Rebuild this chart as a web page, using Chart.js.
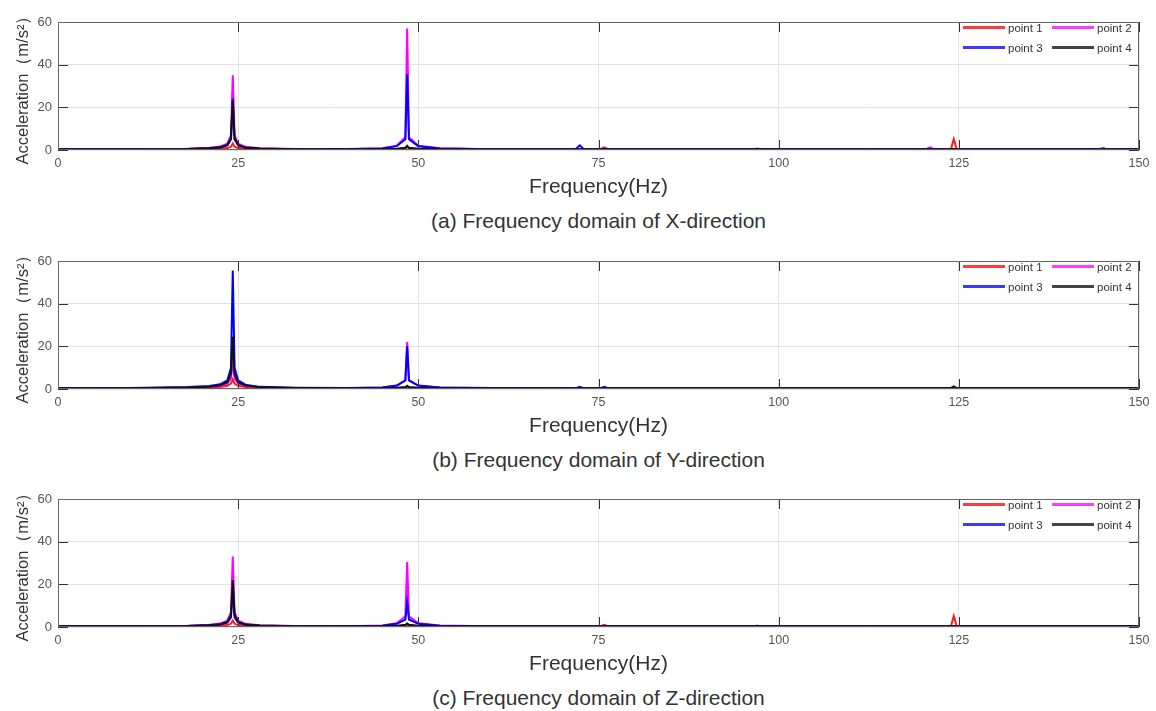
<!DOCTYPE html>
<html><head><meta charset="utf-8">
<script src="https://cdn.jsdelivr.net/npm/chart.js@4"></script>
<style>
body{margin:0;width:1156px;height:711px;background:#fff;position:relative;overflow:hidden;font-family:"Liberation Sans",Arial,sans-serif;}
.panel{position:absolute;left:0;width:1156px;height:200px;}
.cap{position:absolute;left:58px;width:1081px;text-align:center;font-size:21px;color:#333;line-height:24px;}
.it{position:absolute;height:14px;line-height:14px;white-space:nowrap;font-size:11.5px;color:#333;}
.ln{display:inline-block;width:42px;height:3px;vertical-align:middle;margin-right:3px;position:relative;top:-1px;}
</style></head><body>
<script>
// shared frequency grid (Hz)
const freq = [0,10,18,21,22.5,23.5,24.0,24.25,24.5,25.0,26,28,33,40,45,47,48.2,48.45,48.7,50,53,60,71.8,72.4,73,75.2,75.8,76.4,90,96.4,97,97.6,110,120.4,121,121.6,123.9,124.3,124.7,135,144.4,145,145.6,150];

// (a) X-direction
const xP1 = [0.3,0.3,0.3,0.4,0.6,0.9,1.5,3.0,1.5,0.9,0.6,0.4,0.3, 0.3,0.3,0.4,0.7,1.5,0.7,0.4,0.3,0.3, 0.3,0.4,0.3,0.3,1.2,0.3, 0.4,0.3,0.6,0.3, 0.3,0.3,0.4,0.3, 0.4,5.2,0.4, 0.3,0.3,0.8,0.3,0.3];
const xP2 = [0.4,0.4,0.6,1.0,1.6,3.0,7.0,35,7.0,3.0,1.5,0.8,0.5, 0.4,0.8,2.0,6.0,57,6.0,2.0,0.8,0.4, 0.3,0.3,0.3,0.3,0.3,0.3, 0.3,0.3,0.5,0.3, 0.3,0.3,1.2,0.3, 0.3,0.5,0.3, 0.3,0.3,0.9,0.3,0.3];
const xP3 = [0.3,0.3,0.5,0.8,1.2,2.2,5.0,24,5.0,2.2,1.1,0.6,0.4, 0.5,0.7,1.8,5.0,35.5,5.0,1.8,0.7,0.4, 0.3,2.2,0.3,0.3,0.3,0.3, 0.3,0.3,0.6,0.3, 0.3,0.3,0.3,0.3, 0.3,0.3,0.3, 0.3,0.3,0.3,0.3,0.3];
const xP4 = [0.3,0.3,0.5,0.8,1.3,2.4,5.5,23,5.5,2.4,1.2,0.7,0.4, 0.3,0.4,0.6,1.0,2.0,1.0,0.6,0.4,0.3, 0.3,0.3,0.3,0.3,0.3,0.3, 0.3,0.3,0.3,0.3, 0.3,0.3,0.3,0.3, 0.3,0.5,0.3, 0.3,0.3,0.3,0.3,0.3];

// (b) Y-direction
const yP1 = [0.3,0.3,0.4,0.6,0.9,1.5,2.5,4.5,2.5,1.5,0.9,0.5,0.3, 0.3,0.3,0.4,0.6,1.0,0.6,0.4,0.3,0.3, 0.3,0.6,0.3,0.3,0.3,0.3, 0.3,0.3,0.3,0.3, 0.3,0.3,0.3,0.3, 0.3,0.3,0.3, 0.3,0.3,0.3,0.3,0.3];
const yP2 = [0.4,0.4,0.6,0.9,1.4,2.5,5.0,13,5.0,2.5,1.3,0.7,0.4, 0.4,0.7,1.5,4.0,22,4.0,1.5,0.7,0.4, 0.3,0.3,0.3,0.3,0.3,0.3, 0.3,0.3,0.3,0.3, 0.3,0.3,0.3,0.3, 0.3,0.3,0.3, 0.3,0.3,0.3,0.3,0.3];
const yP3 = [0.4,0.5,0.9,1.4,2.2,4.0,10,55.5,10,4.0,2.0,1.0,0.6, 0.5,0.7,1.6,4.0,20,4.0,1.6,0.7,0.5, 0.3,1.0,0.3,0.3,1.0,0.3, 0.3,0.3,0.3,0.3, 0.3,0.3,0.3,0.3, 0.3,0.3,0.3, 0.3,0.3,0.3,0.3,0.3];
const yP4 = [0.4,0.4,0.7,1.1,1.8,3.2,7.0,24.5,7.0,3.2,1.6,0.8,0.5, 0.4,0.4,0.6,0.9,1.5,0.9,0.6,0.4,0.4, 0.4,0.4,0.4,0.4,0.4,0.4, 0.4,0.4,0.4,0.4, 0.4,0.4,0.4,0.4, 0.4,1.2,0.4, 0.4,0.4,0.4,0.4,0.4];

// (c) Z-direction
const zP1 = [0.3,0.3,0.3,0.4,0.6,0.9,1.5,3.0,1.5,0.9,0.6,0.4,0.3, 0.3,0.3,0.4,0.6,1.0,0.6,0.4,0.3,0.3, 0.3,0.4,0.3,0.3,1.0,0.3, 0.3,0.3,0.5,0.3, 0.3,0.3,0.3,0.3, 0.4,5.2,0.4, 0.3,0.3,0.3,0.3,0.3];
const zP2 = [0.4,0.4,0.6,1.0,1.6,3.0,7.0,33,7.0,3.0,1.5,0.8,0.5, 0.4,0.7,1.8,5.0,30.5,5.0,1.8,0.7,0.4, 0.3,0.3,0.3,0.3,0.3,0.3, 0.3,0.3,0.3,0.3, 0.3,0.3,0.3,0.3, 0.3,0.3,0.3, 0.3,0.3,0.3,0.3,0.3];
const zP3 = [0.3,0.3,0.5,0.8,1.2,2.0,4.5,18,4.5,2.0,1.0,0.6,0.4, 0.4,0.6,1.5,3.5,11.5,3.5,1.5,0.6,0.4, 0.3,0.3,0.3,0.3,0.3,0.3, 0.3,0.3,0.6,0.3, 0.3,0.3,0.3,0.3, 0.3,0.3,0.3, 0.3,0.3,0.3,0.3,0.3];
const zP4 = [0.3,0.3,0.5,0.8,1.3,2.4,5.5,22,5.5,2.4,1.2,0.7,0.4, 0.3,0.4,0.6,1.0,1.6,1.0,0.6,0.4,0.3, 0.3,0.3,0.3,0.3,0.3,0.3, 0.3,0.3,0.3,0.3, 0.3,0.3,0.3,0.3, 0.3,0.3,0.3, 0.3,0.3,0.3,0.3,0.3];

const seriesNames = ['point 1','point 2','point 3','point 4'];
const seriesColors = ['#ff1a1a','#ff00ff','#0000ff','#111111'];
const legendColors = ['#ff3b3b','#ff3bff','#3b3bff','#444444'];
const xTicks = [0,25,50,75,100,125,150];
const yTicks = [0,20,40,60];
const captions = ['(a) Frequency domain of X-direction','(b) Frequency domain of Y-direction','(c) Frequency domain of Z-direction'];
const panelData = [[xP1,xP2,xP3,xP4],[yP1,yP2,yP3,yP4],[zP1,zP2,zP3,zP4]];
const panelTops = [0,239,477];
const FONT = '"Liberation Sans", Arial, sans-serif';

const framePlugin = {
  id:'frame',
  afterDatasetsDraw(chart){
    const {ctx, chartArea:a, scales:{x,y}} = chart;
    ctx.save();
    ctx.lineWidth = 1;
    ctx.strokeStyle = '#333';
    ctx.beginPath();
    x.ticks.forEach(t=>{
      const px = Math.round(x.getPixelForValue(t.value))+0.5;
      ctx.moveTo(px,a.top); ctx.lineTo(px,a.top+10);
      ctx.moveTo(px,a.bottom); ctx.lineTo(px,a.bottom-10);
    });
    y.ticks.forEach(t=>{
      const py = Math.round(y.getPixelForValue(t.value))+0.5;
      ctx.moveTo(a.left,py); ctx.lineTo(a.left+10,py);
      ctx.moveTo(a.right,py); ctx.lineTo(a.right-10,py);
    });
    ctx.stroke();
    ctx.strokeStyle = '#666';
    ctx.strokeRect(a.left+0.5,a.top+0.5,a.width-1,a.height-1);
    ctx.restore();
  }
};

function makePanel(i){
  const top = panelTops[i];
  const div = document.createElement('div');
  div.className='panel'; div.style.top = top+'px';
  const cv = document.createElement('canvas');
  cv.width=1156; cv.height=200;
  div.appendChild(cv); document.body.appendChild(div);

  const datasets = panelData[i].map((vals,k)=>({
    label: seriesNames[k],
    data: freq.map((f,j)=>({x:f,y:vals[j]})),
    borderColor: seriesColors[k],
    backgroundColor: seriesColors[k],
    borderWidth: 2,
    pointRadius: 0,
    tension: 0,
    fill: false,
    order: 4-k
  }));

  new Chart(cv,{
    type:'line',
    data:{datasets},
    plugins:[framePlugin],
    options:{
      responsive:false, animation:false, devicePixelRatio:1,
      layout:{padding:{top:22,right:17,left:0,bottom:0}},
      plugins:{legend:{display:false},tooltip:{enabled:false}},
      scales:{
        x:{type:'linear',min:0,max:150,
          afterBuildTicks:(s)=>{s.ticks = xTicks.map(v=>({value:v}));},
          afterFit:(s)=>{s.height=50;},
          ticks:{font:{size:12.5,family:FONT},color:'#555',padding:6,maxRotation:0},
          grid:{color:'#e2e2e2',drawTicks:false},
          border:{display:false},
          title:{display:true,text:'Frequency(Hz)',font:{size:21,family:FONT},color:'#333',padding:{top:0,bottom:0}}
        },
        y:{min:0,max:60,
          afterBuildTicks:(s)=>{s.ticks = yTicks.map(v=>({value:v}));},
          afterFit:(s)=>{s.width=58;},
          ticks:{font:{size:13,family:FONT},color:'#555',padding:6},
          grid:{color:'#e2e2e2',drawTicks:false},
          border:{display:false},
          title:{display:true,text:'Acceleration（m/s²）',font:{size:16.5,family:FONT},color:'#333',padding:{top:14,bottom:0}}
        }
      }
    }
  });

  const cap = document.createElement('div');
  cap.className='cap'; cap.style.top=(top+209)+'px'; cap.textContent=captions[i];
  document.body.appendChild(cap);

  const pos = [[963,28],[1052,28],[963,48],[1052,48]];
  seriesNames.forEach((n,k)=>{
    const it = document.createElement('div');
    it.className='it'; it.style.left=pos[k][0]+'px'; it.style.top=(top+pos[k][1]-7)+'px';
    const ln = document.createElement('span'); ln.className='ln'; ln.style.background=legendColors[k];
    it.appendChild(ln); it.appendChild(document.createTextNode(n));
    document.body.appendChild(it);
  });
}
[0,1,2].forEach(makePanel);
</script>
</body></html>
